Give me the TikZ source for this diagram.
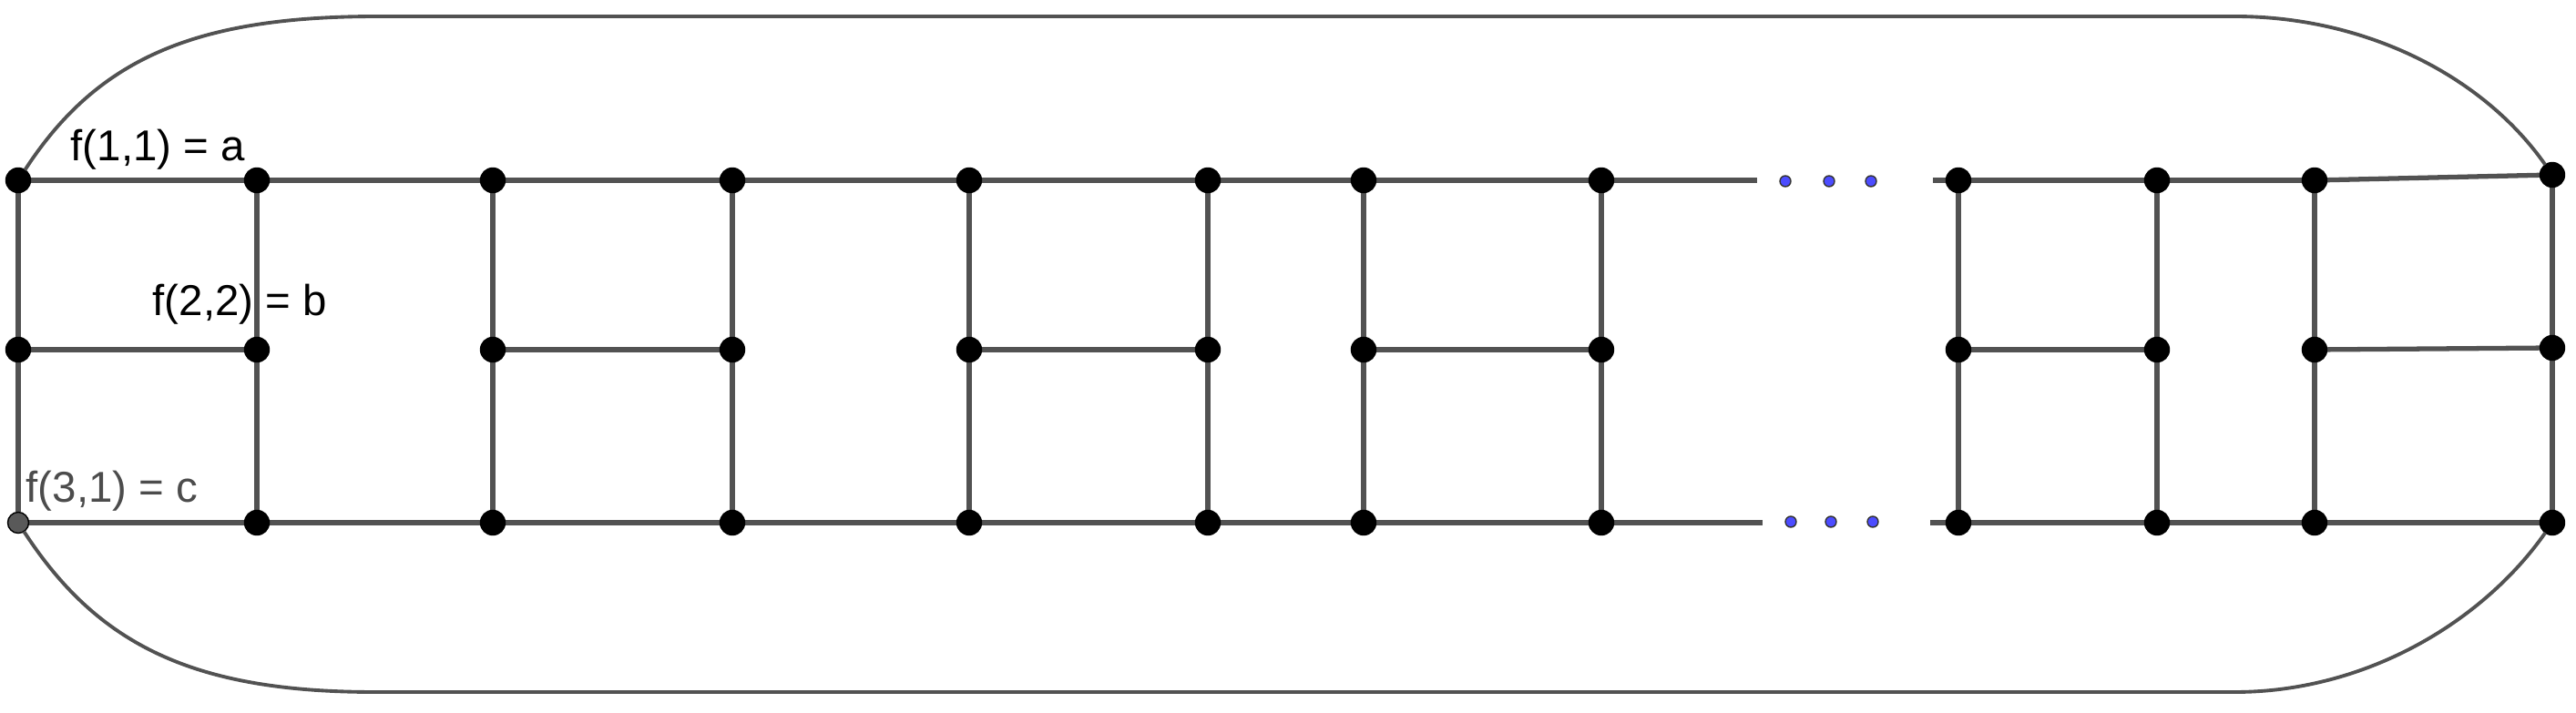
\documentclass[tikz,border=0pt]{standalone}
\usepackage{fontspec}
\setmainfont{Liberation Sans}
\usepackage{tikz}
\usepackage{tikz-network}

\SetVertexStyle[LineColor=black,LineWidth=0.4pt]
\SetEdgeStyle[Color=black!68,LineWidth=1.5pt]

\begin{document}
\begin{tikzpicture}[lbl/.style={font=\fontsize{13.5}{16}\selectfont,inner sep=0pt,anchor=base west},
    dot/.style={circle,fill=blue!70,draw=black!80,line width=0.4pt,inner sep=0pt,minimum size=0.12cm}]
    \useasboundingbox (0,0) rectangle (28.28,7.82);
 %   outline corners and line ends
    \coordinate (tl) at (4.15,7.64);
    \coordinate (tr) at (24.53,7.64);
    \coordinate (bl) at (4.12,0.22);
    \coordinate (br) at (24.53,0.22);
    \coordinate (te) at (19.29,5.84);
    \coordinate (ts) at (21.22,5.84);
    \coordinate (be) at (19.35,2.08);
    \coordinate (bs) at (21.19,2.08);

    \Vertex[color=black,x=0.20,y=5.84,size=0.27]{t1}
    \Vertex[color=black,x=2.82,y=5.84,size=0.27]{t2}
    \Vertex[color=black,x=5.41,y=5.84,size=0.27]{t3}
    \Vertex[color=black,x=8.04,y=5.84,size=0.27]{t4}
    \Vertex[color=black,x=10.64,y=5.84,size=0.27]{t5}
    \Vertex[color=black,x=13.26,y=5.84,size=0.27]{t6}
    \Vertex[color=black,x=14.97,y=5.84,size=0.27]{t7}
    \Vertex[color=black,x=17.58,y=5.84,size=0.27]{t8}
    \Vertex[color=black,x=21.50,y=5.84,size=0.27]{t9}
    \Vertex[color=black,x=23.68,y=5.84,size=0.27]{t10}
    \Vertex[color=black,x=25.41,y=5.84,size=0.27]{t11}
    \Vertex[color=black,x=28.02,y=5.90,size=0.27]{t12}

    \Vertex[color=black,x=0.20,y=3.98,size=0.27]{m1}
    \Vertex[color=black,x=2.82,y=3.98,size=0.27]{m2}
    \Vertex[color=black,x=5.41,y=3.98,size=0.27]{m3}
    \Vertex[color=black,x=8.04,y=3.98,size=0.27]{m4}
    \Vertex[color=black,x=10.64,y=3.98,size=0.27]{m5}
    \Vertex[color=black,x=13.26,y=3.98,size=0.27]{m6}
    \Vertex[color=black,x=14.97,y=3.98,size=0.27]{m7}
    \Vertex[color=black,x=17.58,y=3.98,size=0.27]{m8}
    \Vertex[color=black,x=21.50,y=3.98,size=0.27]{m9}
    \Vertex[color=black,x=23.68,y=3.98,size=0.27]{m10}
    \Vertex[color=black,x=25.41,y=3.98,size=0.27]{m11}
    \Vertex[color=black,x=28.02,y=4.00,size=0.27]{m12}

    \Vertex[color=black!65,x=0.20,y=2.08,size=0.23]{b1}
    \Vertex[color=black,x=2.82,y=2.08,size=0.27]{b2}
    \Vertex[color=black,x=5.41,y=2.08,size=0.27]{b3}
    \Vertex[color=black,x=8.04,y=2.08,size=0.27]{b4}
    \Vertex[color=black,x=10.64,y=2.08,size=0.27]{b5}
    \Vertex[color=black,x=13.26,y=2.08,size=0.27]{b6}
    \Vertex[color=black,x=14.97,y=2.08,size=0.27]{b7}
    \Vertex[color=black,x=17.58,y=2.08,size=0.27]{b8}
    \Vertex[color=black,x=21.50,y=2.08,size=0.27]{b9}
    \Vertex[color=black,x=23.68,y=2.08,size=0.27]{b10}
    \Vertex[color=black,x=25.41,y=2.08,size=0.27]{b11}
    \Vertex[color=black,x=28.02,y=2.08,size=0.27]{b12}

    % dots in the gap
    \node[dot] (d1) at (19.60,5.83) {};
    \node[dot] (d2) at (20.08,5.83) {};
    \node[dot] (d3) at (20.54,5.83) {};
    \node[dot] (d4) at (19.66,2.09) {};
    \node[dot] (d5) at (20.10,2.09) {};
    \node[dot] (d6) at (20.56,2.09) {};

    \node[lbl] (fa) at (0.77,6.05) {f(1,1) = a};
    \node[lbl] (fb) at (1.67,4.35) {f(2,2) = b};
    \node[lbl,text=black!70] (fc) at (0.28,2.30) {f(3,1) = c};

    % top and bottom rows
    \Edge(t1)(t2)
    \Edge(t2)(t3)
    \Edge(t3)(t4)
    \Edge(t4)(t5)
    \Edge(t5)(t6)
    \Edge(t6)(t7)
    \Edge(t7)(t8)
    \Edge(t8)(te)
    \Edge(ts)(t9)
    \Edge(t9)(t10)
    \Edge(t10)(t11)
    \Edge(t11)(t12)
    \Edge(b1)(b2)
    \Edge(b2)(b3)
    \Edge(b3)(b4)
    \Edge(b4)(b5)
    \Edge(b5)(b6)
    \Edge(b6)(b7)
    \Edge(b7)(b8)
    \Edge(b8)(be)
    \Edge(bs)(b9)
    \Edge(b9)(b10)
    \Edge(b10)(b11)
    \Edge(b11)(b12)
    % rungs
    \Edge(m1)(m2)
    \Edge(m3)(m4)
    \Edge(m5)(m6)
    \Edge(m7)(m8)
    \Edge(m9)(m10)
    \Edge(m11)(m12)
    % columns
    \Edge(t1)(m1)
    \Edge(m1)(b1)
    \Edge(t2)(m2)
    \Edge(m2)(b2)
    \Edge(t3)(m3)
    \Edge(m3)(b3)
    \Edge(t4)(m4)
    \Edge(m4)(b4)
    \Edge(t5)(m5)
    \Edge(m5)(b5)
    \Edge(t6)(m6)
    \Edge(m6)(b6)
    \Edge(t7)(m7)
    \Edge(m7)(b7)
    \Edge(t8)(m8)
    \Edge(m8)(b8)
    \Edge(t9)(m9)
    \Edge(m9)(b9)
    \Edge(t10)(m10)
    \Edge(m10)(b10)
    \Edge(t11)(m11)
    \Edge(m11)(b11)
    \Edge(t12)(m12)
    \Edge(m12)(b12)

    % outline
    \draw[black!68,line width=1.1pt] (t1) .. controls +(57:1.6) and +(-2.0,0) .. (tl) -- (tr)
        .. controls +(1.47,0) and +(125:1.3) .. (t12);
    \draw[black!68,line width=1.1pt] (b1) .. controls +(-57:1.6) and +(-2.0,0) .. (bl) -- (br)
        .. controls +(1.47,0) and +(-125:1.3) .. (b12);
   \end{tikzpicture}
\end{document}
